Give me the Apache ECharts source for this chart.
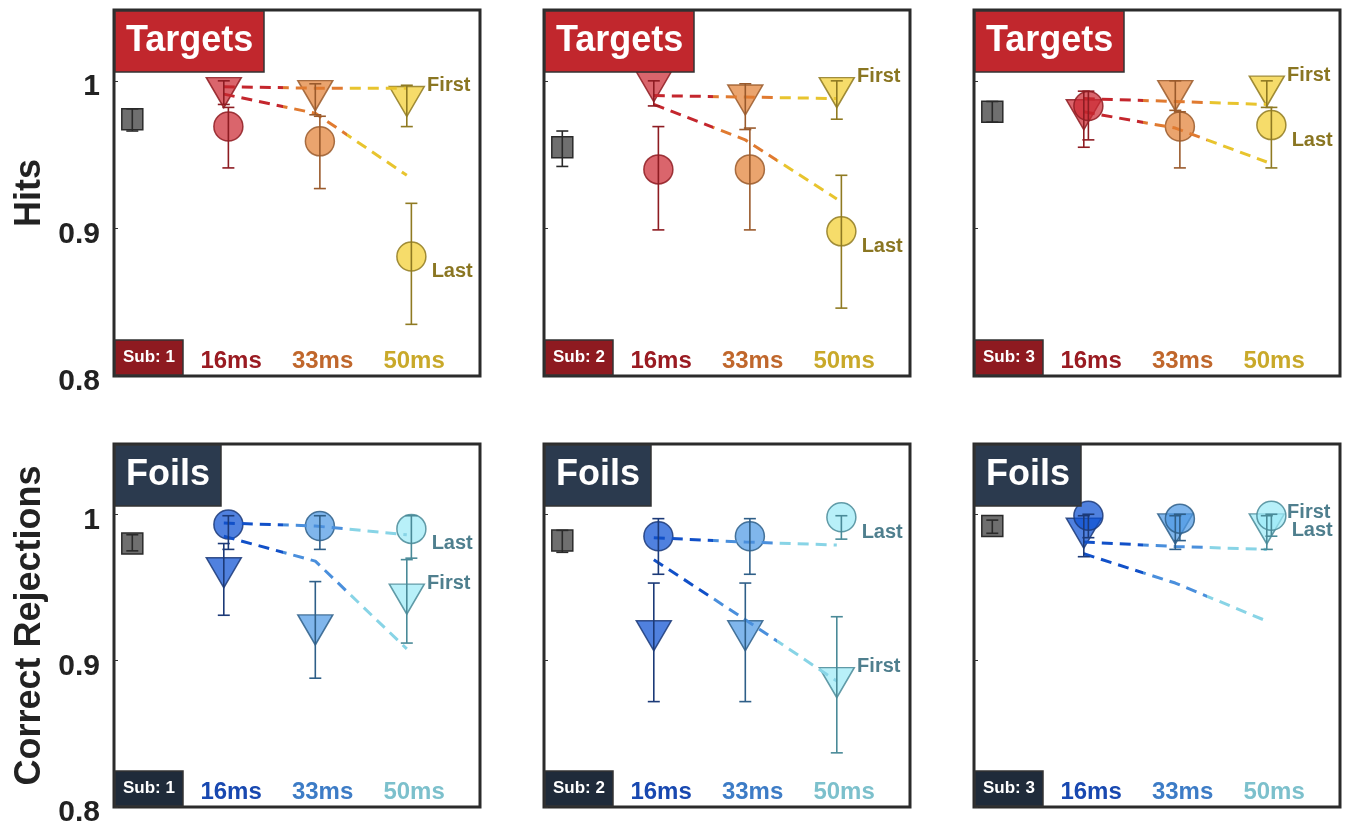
<!DOCTYPE html>
<html>
<head>
<meta charset="utf-8">
<script src="https://cdn.jsdelivr.net/npm/echarts@6/dist/echarts.min.js"></script>
<style>
  html, body { margin: 0; background: #fff; }
  #chart { width: 1345px; height: 824px; }
</style>
</head>
<body>
<div id="chart"></div>
<script>
const CATS = ['16ms', '33ms', '50ms'];
const SUBS = ['Sub: 1', 'Sub: 2', 'Sub: 3'];
const Y_TICKS = ['0.8', '0.9', '1'];

// Targets / hits, one row per subject
const hitBase = [0.974, 0.955, 0.979];
const hitBaseLo = [0.966, 0.942, 0.972];
const hitBaseHi = [0.981, 0.966, 0.986];
const hitFirst = [[0.992, 0.990, 0.986], [0.996, 0.987, 0.992], [0.977, 0.990, 0.993]];
const hitFirstLo = [[0.984, 0.977, 0.969], [0.983, 0.967, 0.974], [0.955, 0.980, 0.982]];
const hitFirstHi = [[1.000, 0.998, 0.997], [1.000, 0.998, 1.000], [0.993, 1.000, 1.000]];
const hitLast = [[0.969, 0.959, 0.881], [0.940, 0.940, 0.898], [0.983, 0.969, 0.970]];
const hitLastLo = [[0.941, 0.927, 0.835], [0.899, 0.899, 0.846], [0.960, 0.941, 0.941]];
const hitLastHi = [[0.982, 0.976, 0.917], [0.969, 0.968, 0.936], [0.993, 0.979, 0.982]];
const hitFitFirst = [[0.996, 0.995, 0.995], [0.990, 0.989, 0.988], [0.988, 0.986, 0.984]];
const hitFitLast = [[0.991, 0.978, 0.936], [0.984, 0.960, 0.920], [0.979, 0.968, 0.945]];

// Foils / correct rejections
const crBase = [0.980, 0.982, 0.992];
const crBaseLo = [0.975, 0.974, 0.987];
const crBaseHi = [0.986, 0.989, 0.996];
const crFirst = [[0.960, 0.921, 0.942], [0.917, 0.917, 0.885], [0.987, 0.990, 0.990]];
const crFirstLo = [[0.931, 0.888, 0.912], [0.872, 0.872, 0.837], [0.971, 0.976, 0.976]];
const crFirstHi = [[0.980, 0.954, 0.969], [0.953, 0.953, 0.930], [0.999, 0.999, 0.999]];
const crLast = [[0.993, 0.992, 0.990], [0.985, 0.985, 0.998], [0.999, 0.997, 0.999]];
const crLastLo = [[0.976, 0.976, 0.970], [0.959, 0.959, 0.983], [0.984, 0.982, 0.985]];
const crLastHi = [[0.999, 0.999, 0.999], [0.997, 0.997, 0.999], [1.000, 1.000, 1.000]];
const crFitFirst = [[0.985, 0.968, 0.908], [0.969, 0.928, 0.886], [0.973, 0.953, 0.927]];
const crFitLast = [[0.994, 0.992, 0.986], [0.984, 0.981, 0.979], [0.981, 0.978, 0.976]];

const FONT = "'Liberation Sans', Arial, sans-serif";
const LEFTS = [114, 544, 974];
const TOPS = [10, 444];
const HEIGHTS = [366, 363];
const W = 366;

const rows = [
  {
    title: 'Targets', name: 'Hits', box: '#c1272d', subBox: '#8e1a20',
    fill: ['#cc2a33', '#e28136', '#f2ce31'],
    edge: ['#8e1c22', '#9a5a2c', '#8f7a22'],
    line: ['#c4262d', '#e07a30', '#e8c42e'],
    text: ['#9a1b22', '#c0672c', '#c9a92a'],
    tag: '#8a7622',
    base: hitBase, baseLo: hitBaseLo, baseHi: hitBaseHi,
    first: hitFirst, firstLo: hitFirstLo, firstHi: hitFirstHi,
    last: hitLast, lastLo: hitLastLo, lastHi: hitLastHi,
    fitFirst: hitFitFirst, fitLast: hitFitLast
  },
  {
    title: 'Foils', name: 'Correct Rejections', box: '#2b3a4e', subBox: '#1f2b3a',
    fill: ['#0c51d3', '#4f9ae5', '#9ceaf6'],
    edge: ['#1c3a78', '#2f5f88', '#4a8a98'],
    line: ['#1150c8', '#4a8fdc', '#88d4e6'],
    text: ['#1848b0', '#3d7cc6', '#7cc0cc'],
    tag: '#4f7f8e',
    base: crBase, baseLo: crBaseLo, baseHi: crBaseHi,
    first: crFirst, firstLo: crFirstLo, firstHi: crFirstHi,
    last: crLast, lastLo: crLastLo, lastHi: crLastHi,
    fitFirst: crFitFirst, fitLast: crFitLast
  }
];

function alpha(hex, a) {
  const n = parseInt(hex.slice(1), 16);
  return `rgba(${n >> 16},${(n >> 8) & 255},${n & 255},${a})`;
}

function errRenderer(colors) {
  return function (params, api) {
    const x = api.value(0);
    const a = api.coord([x, api.value(1)]);
    const b = api.coord([x, api.value(2)]);
    const c = colors[api.value(3)];
    const s = { stroke: c, lineWidth: 1.6 };
    return {
      type: 'group',
      children: [
        { type: 'line', shape: { x1: a[0], y1: a[1], x2: b[0], y2: b[1] }, style: s },
        { type: 'line', shape: { x1: a[0] - 6, y1: a[1], x2: a[0] + 6, y2: a[1] }, style: s },
        { type: 'line', shape: { x1: b[0] - 6, y1: b[1], x2: b[0] + 6, y2: b[1] }, style: s }
      ]
    };
  };
}

function gradient(c) {
  return {
    type: 'linear', x: 0, y: 0, x2: 1, y2: 0,
    colorStops: [
      { offset: 0, color: c[0] }, { offset: 0.33, color: c[0] },
      { offset: 0.33, color: c[1] }, { offset: 0.67, color: c[1] },
      { offset: 0.67, color: c[2] }, { offset: 1, color: c[2] }
    ]
  };
}

const grid = [], xAxis = [], yAxis = [], series = [], title = [];

rows.forEach((R, r) => {
  for (let s = 0; s < 3; s++) {
    const k = grid.length;
    grid.push({
      left: LEFTS[s], top: TOPS[r], width: W, height: HEIGHTS[r],
      outerBoundsMode: 'none', containLabel: false,
      show: true, borderColor: '#2b2b2b', borderWidth: 3, backgroundColor: '#fff'
    });
    xAxis.push({ gridIndex: k, type: 'value', min: 0, max: 4, show: false });
    yAxis.push({
      gridIndex: k, type: 'value', min: 0.8, max: 1.048, interval: 0.1,
      axisLine: { show: false },
      axisTick: { show: true, inside: true, length: 4, lineStyle: { color: '#333' } },
      splitLine: { show: false },
      axisLabel: {
        show: s === 0, margin: 14,
        formatter: v => {
          const t = Y_TICKS.find(t => Math.abs(parseFloat(t) - v) < 1e-6);
          return t ? '{v|' + t + '}' : '';
        },
        rich: {
          v: { fontSize: 30, fontWeight: 'bold', color: '#222', fontFamily: FONT, padding: [12, 0, 0, 0] }
        }
      },
      name: s === 0 ? R.name : '',
      nameLocation: 'middle', nameRotate: 90, nameGap: 66,
      nameTextStyle: { fontSize: 36, fontWeight: 'bold', color: '#222', fontFamily: FONT }
    });

    title.push({
      text: R.title, left: LEFTS[s] + 1, top: TOPS[r] + 1,
      backgroundColor: R.box, borderColor: '#333', borderWidth: 1.5,
      padding: [11, 11, 12, 11],
      textStyle: { color: '#fff', fontSize: 36, fontWeight: 'bold', fontFamily: FONT, lineHeight: 38 }
    });
    title.push({
      text: SUBS[s], left: LEFTS[s] + 1, top: TOPS[r] + HEIGHTS[r] - 36,
      backgroundColor: R.subBox, borderColor: '#333', borderWidth: 1.5,
      padding: [8, 8, 8, 8],
      textStyle: { color: '#fff', fontSize: 17, fontWeight: 'bold', fontFamily: FONT, lineHeight: 19 }
    });

    const ax = { xAxisIndex: k, yAxisIndex: k };
    const triX = i => i + 1.2;
    const circX = i => i + 1.25;
    const tagLabel = (txt, dist, dy) => ({
      show: true, formatter: txt, position: 'right', distance: dist, offset: [0, dy],
      fontSize: 20, fontWeight: 'bold', color: R.tag, fontFamily: FONT
    });

    // baseline square
    series.push(Object.assign({
      type: 'scatter', symbol: 'rect', symbolSize: 21, z: 2,
      itemStyle: { color: '#6f6f6f', borderColor: '#2a2a2a', borderWidth: 1.5, opacity: 1 },
      data: [[0.2, R.base[s]]]
    }, ax));
    series.push(Object.assign({
      type: 'custom', renderItem: errRenderer(['#2a2a2a']), z: 4,
      encode: { x: 0, y: [1, 2] },
      data: [[0.2, R.baseLo[s], R.baseHi[s], 0]]
    }, ax));

    // first (triangles)
    series.push(Object.assign({
      type: 'scatter', symbol: 'triangle', symbolRotate: 180, symbolSize: [35, 30], z: 2,
      data: R.first[s].map((v, i) => ({
        value: [triX(i), v],
        itemStyle: { color: alpha(R.fill[i], 0.72), opacity: 1, borderColor: alpha(R.edge[i], 0.85), borderWidth: 1.5 },
        label: i === 2 ? tagLabel('First', 2, -16) : { show: false }
      }))
    }, ax));
    // last (circles)
    series.push(Object.assign({
      type: 'scatter', symbol: 'circle', symbolSize: 29, z: 2,
      data: R.last[s].map((v, i) => ({
        value: [circX(i), v],
        itemStyle: { color: alpha(R.fill[i], 0.72), opacity: 1, borderColor: alpha(R.edge[i], 0.85), borderWidth: 1.5 },
        label: i === 2 ? tagLabel('Last', 5, 15) : { show: false }
      }))
    }, ax));

    // dashed fits
    [R.fitFirst[s], R.fitLast[s]].forEach(arr => {
      series.push(Object.assign({
        type: 'line', showSymbol: false, symbol: 'none', z: 3, silent: true,
        lineStyle: { width: 3, type: [11, 7], color: gradient(R.line) },
        data: arr.map((v, i) => [triX(i), v])
      }, ax));
    });

    // error bars
    series.push(Object.assign({
      type: 'custom', renderItem: errRenderer(R.edge), z: 4,
      encode: { x: 0, y: [1, 2] },
      data: R.first[s].map((v, i) => [triX(i), R.firstLo[s][i], R.firstHi[s][i], i])
        .concat(R.last[s].map((v, i) => [circX(i), R.lastLo[s][i], R.lastHi[s][i], i]))
    }, ax));

    // condition labels along the bottom
    series.push(Object.assign({
      type: 'scatter', symbolSize: 1, z: 5, silent: true,
      itemStyle: { color: 'rgba(0,0,0,0)', opacity: 1 },
      data: CATS.map((c, i) => ({
        value: [i + 1.28, 0.8],
        label: {
          show: true, formatter: c, position: 'inside', offset: [0, -15],
          fontSize: 24, fontWeight: 'bold', color: R.text[i], fontFamily: FONT
        }
      }))
    }, ax));
  }
});

const chart = echarts.init(document.getElementById('chart'));
chart.setOption({
  animation: false,
  backgroundColor: '#fff',
  title, grid, xAxis, yAxis, series
});
window.addEventListener('resize', () => chart.resize());
</script>
</body>
</html>
